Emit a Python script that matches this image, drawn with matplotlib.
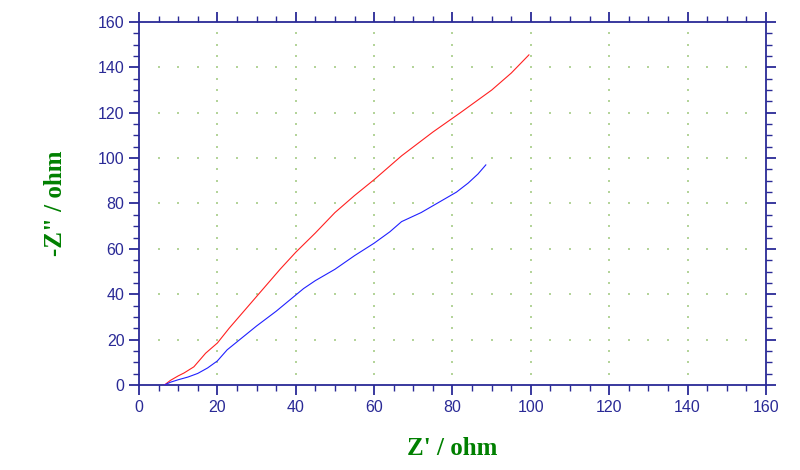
import numpy as np
import matplotlib.pyplot as plt
from matplotlib.ticker import MultipleLocator

# Nyquist data
red_x = [6.5, 8, 10, 11.5, 14, 15.5, 17, 20, 23, 26, 29, 32, 36, 40, 45, 50, 55, 60, 67, 75, 82, 90, 95, 99.5]
red_y = [0, 2, 4, 5.3, 8, 11, 14, 18.5, 25, 31, 37, 43, 51, 58.5, 67, 76, 83.5, 90.5, 101, 111.5, 120, 130, 137.5, 145.5]
blue_x = [6.5, 8, 10, 12.5, 15, 17.5, 20, 22.5, 25, 30, 35, 38.5, 42, 45, 50, 55, 60, 64, 67, 72, 77, 81, 84, 86.5, 88.5]
blue_y = [0, 1.2, 2.3, 3.5, 5.1, 7.5, 10.6, 15.5, 19, 26, 32.5, 37.5, 42.5, 46, 51, 57, 62.5, 67.5, 72, 76, 81, 85, 89, 93, 97]

axis_col = '#2a2a96'
grid_col = '#b4d49a'

fig = plt.figure(figsize=(8, 4.7), dpi=100)
ax = fig.add_axes([0.17375, 0.1809, 0.78375, 0.7723])

# dotted grid: dots along major lines at every minor step
for v in range(20, 160, 20):
    xs = np.arange(5, 160, 5)
    ax.scatter(xs, np.full_like(xs, v, dtype=float), s=1.0, marker='s', color=grid_col, lw=0, zorder=1)
    ys = np.arange(5, 160, 5)
    ax.scatter(np.full_like(ys, v, dtype=float), ys, s=1.0, marker='s', color=grid_col, lw=0, zorder=1)

ax.plot(red_x, red_y, color='#ff2020', lw=0.8, zorder=3)
ax.plot(blue_x, blue_y, color='#2020ff', lw=0.8, zorder=3)

ax.set_xlim(0, 160)
ax.set_ylim(0, 160)
ax.xaxis.set_major_locator(MultipleLocator(20))
ax.xaxis.set_minor_locator(MultipleLocator(5))
ax.yaxis.set_major_locator(MultipleLocator(20))
ax.yaxis.set_minor_locator(MultipleLocator(5))

for s in ax.spines.values():
    s.set_color(axis_col)
    s.set_linewidth(1.3)

ax.tick_params(which='both', direction='out', color=axis_col, top=True, right=True,
               labeltop=False, labelright=False)
ax.tick_params(which='major', length=7, width=1.3, labelsize=11.5, labelcolor=axis_col)
ax.tick_params(which='minor', length=4, width=1)
for lab in ax.get_xticklabels() + ax.get_yticklabels():
    lab.set_family('Liberation Sans')

ax.set_xlabel("Z' / ohm", family='Liberation Serif', fontweight='bold',
              fontsize=18, color='#008000', labelpad=16)
ax.set_ylabel('-Z" / ohm', family='Liberation Serif', fontweight='bold',
              fontsize=18, color='#008000', labelpad=22)

fig.savefig('out.png', dpi=100)
